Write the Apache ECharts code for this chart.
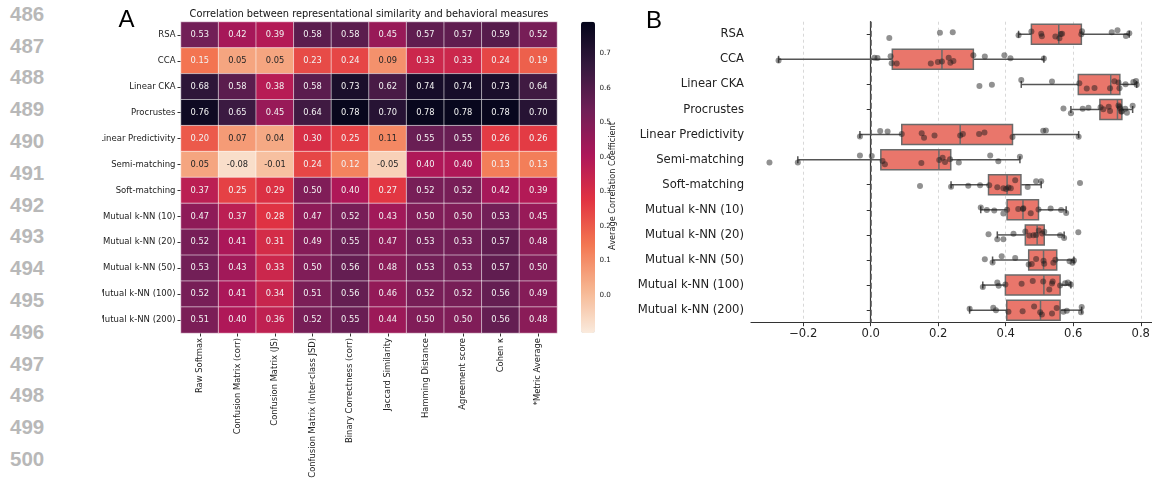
<!DOCTYPE html>
<html>
<head>
<meta charset="utf-8">
<script src="https://cdn.jsdelivr.net/npm/echarts@6/dist/echarts.min.js"></script>
<style>
html, body { margin: 0; padding: 0; background: #fff; }
#gutter { position: absolute; left: 0; top: 0; width: 102px; height: 481px;
  font-family: 'Liberation Sans', Arial, sans-serif; font-weight: bold; font-size: 20.5px; color: #b8b8b8; }
#gutter div { position: absolute; left: 10px; line-height: 20px; }
#chart { position: absolute; left: 102px; top: 0; width: 1050px; height: 481px; }
</style>
</head>
<body>
<div id="gutter"></div>
<div id="chart"></div>
<script>
var lineNumbers = [486, 487, 488, 489, 490, 491, 492, 493, 494, 495, 496, 497, 498, 499, 500];

var metrics = ['RSA', 'CCA', 'Linear CKA', 'Procrustes', 'Linear Predictivity', 'Semi-matching',
	'Soft-matching', 'Mutual k-NN (10)', 'Mutual k-NN (20)', 'Mutual k-NN (50)',
	'Mutual k-NN (100)', 'Mutual k-NN (200)'];

var measures = ['Raw Softmax', 'Confusion Matrix (corr)', 'Confusion Matrix (JS)',
	'Confusion Matrix (Inter-class JSD)', 'Binary Correctness (corr)', 'Jaccard Similarity',
	'Hamming Distance', 'Agreement score', 'Cohen \u03ba', '*Metric Average'];

var heatValues = [
	[0.53, 0.42, 0.39, 0.58, 0.58, 0.45, 0.57, 0.57, 0.59, 0.52],
	[0.15, 0.05, 0.05, 0.23, 0.24, 0.09, 0.33, 0.33, 0.24, 0.19],
	[0.68, 0.58, 0.38, 0.58, 0.73, 0.62, 0.74, 0.74, 0.73, 0.64],
	[0.76, 0.65, 0.45, 0.64, 0.78, 0.70, 0.78, 0.78, 0.78, 0.70],
	[0.20, 0.07, 0.04, 0.30, 0.25, 0.11, 0.55, 0.55, 0.26, 0.26],
	[0.05, -0.08, -0.01, 0.24, 0.12, -0.05, 0.40, 0.40, 0.13, 0.13],
	[0.37, 0.25, 0.29, 0.50, 0.40, 0.27, 0.52, 0.52, 0.42, 0.39],
	[0.47, 0.37, 0.28, 0.47, 0.52, 0.43, 0.50, 0.50, 0.53, 0.45],
	[0.52, 0.41, 0.31, 0.49, 0.55, 0.47, 0.53, 0.53, 0.57, 0.48],
	[0.53, 0.43, 0.33, 0.50, 0.56, 0.48, 0.53, 0.53, 0.57, 0.50],
	[0.52, 0.41, 0.34, 0.51, 0.56, 0.46, 0.52, 0.52, 0.56, 0.49],
	[0.51, 0.40, 0.36, 0.52, 0.55, 0.44, 0.50, 0.50, 0.56, 0.48]
];

var colorMin = -0.111;
var colorMax = 0.792;
var colorTicks = [0, 0.1, 0.2, 0.3, 0.4, 0.5, 0.6, 0.7];
// rocket_r
var rocketR = ['#faebdd', '#f6b48f', '#f37651', '#e13342', '#ad1759', '#701f57', '#35193e', '#03051a'];

var boxLow    = [0.438, -0.273, 0.446, 0.593, -0.032, -0.216, 0.238, 0.326, 0.375, 0.361, 0.332, 0.293];
var boxQ1     = [0.476,  0.064, 0.615, 0.679,  0.092,  0.030, 0.349, 0.404, 0.458, 0.468, 0.399, 0.403];
var boxMedian = [0.557,  0.211, 0.711, 0.731,  0.265,  0.202, 0.404, 0.451, 0.493, 0.512, 0.513, 0.503];
var boxQ3     = [0.624,  0.304, 0.738, 0.744,  0.420,  0.237, 0.445, 0.497, 0.514, 0.551, 0.561, 0.561];
var boxHigh   = [0.766,  0.513, 0.788, 0.776,  0.616,  0.442, 0.505, 0.579, 0.573, 0.602, 0.593, 0.625];

var stripPoints = [
	[0.055, 0.205, 0.243, 0.438, 0.476, 0.505, 0.507, 0.547, 0.559, 0.563, 0.567, 0.624, 0.626, 0.714, 0.731, 0.756, 0.766],
	[-0.273, 0.011, 0.020, 0.059, 0.062, 0.077, 0.178, 0.199, 0.211, 0.231, 0.236, 0.245, 0.304, 0.338, 0.396, 0.414, 0.513],
	[0.322, 0.359, 0.446, 0.537, 0.618, 0.640, 0.663, 0.709, 0.722, 0.734, 0.737, 0.755, 0.778, 0.786, 0.788],
	[0.571, 0.593, 0.628, 0.645, 0.681, 0.689, 0.705, 0.709, 0.734, 0.737, 0.739, 0.742, 0.744, 0.754, 0.759, 0.776],
	[-0.032, 0.028, 0.050, 0.092, 0.151, 0.158, 0.189, 0.265, 0.273, 0.321, 0.337, 0.420, 0.511, 0.519, 0.616],
	[-0.300, -0.216, -0.032, 0.003, 0.035, 0.042, 0.150, 0.203, 0.213, 0.220, 0.235, 0.261, 0.354, 0.378, 0.442],
	[0.146, 0.238, 0.289, 0.324, 0.351, 0.375, 0.393, 0.401, 0.408, 0.415, 0.428, 0.465, 0.490, 0.505, 0.620],
	[0.326, 0.344, 0.366, 0.393, 0.404, 0.437, 0.451, 0.452, 0.474, 0.497, 0.533, 0.564, 0.579],
	[0.349, 0.375, 0.393, 0.423, 0.458, 0.470, 0.482, 0.490, 0.498, 0.508, 0.514, 0.561, 0.573, 0.615],
	[0.338, 0.361, 0.388, 0.428, 0.468, 0.477, 0.490, 0.512, 0.514, 0.541, 0.547, 0.589, 0.598, 0.602],
	[0.332, 0.375, 0.379, 0.399, 0.447, 0.480, 0.511, 0.529, 0.537, 0.539, 0.561, 0.576, 0.584, 0.593],
	[0.293, 0.363, 0.371, 0.408, 0.450, 0.484, 0.502, 0.507, 0.537, 0.551, 0.571, 0.581, 0.623, 0.625]
];

var boxTicks = [-0.2, 0, 0.2, 0.4, 0.6, 0.8];

// line numbers in the margin
var gutter = document.getElementById('gutter');
for (var i = 0; i < lineNumbers.length; i++) {
	var d = document.createElement('div');
	d.textContent = lineNumbers[i];
	d.style.top = (13.7 + 31.8 * i - 10) + 'px';
	gutter.appendChild(d);
}

var heatData = [];
for (var r = 0; r < metrics.length; r++) {
	for (var c = 0; c < measures.length; c++) {
		heatData.push([c, r, heatValues[r][c]]);
	}
}

var boxData = [];
var scatterData = [];
for (var k = 0; k < metrics.length; k++) {
	boxData.push([k, boxLow[k], boxQ1[k], boxMedian[k], boxQ3[k], boxHigh[k]]);
	for (var p = 0; p < stripPoints[k].length; p++) {
		scatterData.push([stripPoints[k][p], metrics[k]]);
	}
}

var FONT = "'DejaVu Sans', sans-serif";

function renderBox(params, api) {
	var cat = api.value(0);
	var band = api.size([0, 1])[1];
	var h = band * 0.8;
	var lo = api.coord([api.value(1), cat]);
	var q1 = api.coord([api.value(2), cat]);
	var md = api.coord([api.value(3), cat]);
	var q3 = api.coord([api.value(4), cat]);
	var hi = api.coord([api.value(5), cat]);
	var y = q1[1];
	var ls = { stroke: '#555', lineWidth: 1.5 };
	return {
		type: 'group',
		children: [
			{ type: 'line', shape: { x1: lo[0], y1: y, x2: q1[0], y2: y }, style: ls },
			{ type: 'line', shape: { x1: q3[0], y1: y, x2: hi[0], y2: y }, style: ls },
			{ type: 'line', shape: { x1: lo[0], y1: y - 3.5, x2: lo[0], y2: y + 3.5 }, style: ls },
			{ type: 'line', shape: { x1: hi[0], y1: y - 3.5, x2: hi[0], y2: y + 3.5 }, style: ls },
			{ type: 'rect', shape: { x: q1[0], y: y - h / 2, width: q3[0] - q1[0], height: h },
				style: { fill: '#e9766b', stroke: '#6a6a6a', lineWidth: 1.5 } },
			{ type: 'line', shape: { x1: md[0], y1: y - h / 2, x2: md[0], y2: y + h / 2 }, style: { stroke: '#6a6a6a', lineWidth: 1.5 } }
		]
	};
}

var chart = echarts.init(document.getElementById('chart'));

var option = {
	animation: false,
	textStyle: { fontFamily: FONT },
	grid: [
		{ left: 79, top: 22, width: 376, height: 311, outerBoundsMode: 'none', containLabel: false },
		{ left: 479, top: 21.7, width: 14, height: 311.3, outerBoundsMode: 'none', containLabel: false },
		{ left: 649, top: 21.7, right: 0, height: 301, outerBoundsMode: 'none', containLabel: false }
	],
	xAxis: [
		{
			gridIndex: 0, type: 'category', data: measures, position: 'bottom',
			axisLine: { show: false },
			axisTick: { show: true, length: 3.5, alignWithLabel: true, lineStyle: { color: '#333' } },
			axisLabel: { rotate: 90, fontSize: 8.4, color: '#222', margin: 5, interval: 0 },
			splitLine: { show: false }
		},
		{ gridIndex: 1, type: 'value', show: false },
		{
			gridIndex: 2, type: 'value', min: -0.3547, max: 0.8333,
			axisLine: { show: true, lineStyle: { color: '#333', width: 1.2 } },
			axisTick: { show: true, length: 3.5, customValues: boxTicks, lineStyle: { color: '#333' } },
			axisLabel: {
				fontSize: 11.6, color: '#222', margin: 5, customValues: boxTicks,
				formatter: function (v) { return (v < -1e-9 ? '\u2212' : '') + Math.abs(v).toFixed(1); }
			},
			splitLine: { show: true, lineStyle: { color: '#cfcfcf', type: [3, 3], width: 0.8 } }
		}
	],
	yAxis: [
		{
			gridIndex: 0, type: 'category', data: metrics, inverse: true,
			axisLine: { show: false },
			axisTick: { show: true, length: 3.5, alignWithLabel: true, lineStyle: { color: '#333' } },
			axisLabel: { fontSize: 8.5, color: '#222', margin: 5.5, interval: 0 },
			splitLine: { show: false }
		},
		{
			gridIndex: 1, type: 'value', min: colorMin, max: colorMax, position: 'right',
			axisLine: { show: false },
			axisTick: { show: true, length: 3, customValues: colorTicks, lineStyle: { color: '#333' } },
			axisLabel: {
				fontSize: 7.2, color: '#222', margin: 4.5, customValues: colorTicks,
				formatter: function (v) { return v.toFixed(1); }
			},
			splitLine: { show: false }
		},
		{
			gridIndex: 2, type: 'category', data: metrics, inverse: true,
			jitter: 9, jitterOverlap: true,
			axisLine: { show: true, lineStyle: { color: '#333', width: 1.2 } },
			axisTick: { show: true, length: 4, alignWithLabel: true, lineStyle: { color: '#333' } },
			axisLabel: { fontSize: 11.6, color: '#222', margin: 7, interval: 0 },
			splitLine: { show: false }
		}
	],
	visualMap: {
		type: 'continuous', seriesIndex: 0, dimension: 2,
		min: colorMin, max: colorMax,
		orient: 'vertical', left: 479, top: 21.7,
		itemWidth: 14, itemHeight: 311.3,
		padding: 0, calculable: false, hoverLink: false,
		inRange: { color: rocketR }
	},
	graphic: [
		{ type: 'text', x: 267, y: 14.5,
			style: { text: 'Correlation between representational similarity and behavioral measures',
				font: '9.8px ' + FONT, fill: '#111', textAlign: 'center', textVerticalAlign: 'middle' } },
		{ type: 'text', x: 24.5, y: 20.5,
			style: { text: 'A', font: '24px "Liberation Sans", Arial, sans-serif', fill: '#000', textAlign: 'center', textVerticalAlign: 'middle' } },
		{ type: 'text', x: 552, y: 21,
			style: { text: 'B', font: '24px "Liberation Sans", Arial, sans-serif', fill: '#000', textAlign: 'center', textVerticalAlign: 'middle' } },
		{ type: 'text', x: 511, y: 186, rotation: Math.PI / 2,
			style: { text: 'Average Correlation Coefficient', font: '8.2px ' + FONT, fill: '#222', textAlign: 'center', textVerticalAlign: 'middle' } }
	],
	series: [
		{
			type: 'heatmap', xAxisIndex: 0, yAxisIndex: 0,
			// dark annotation text on the light cells, as seaborn does
			data: heatData.map(function (d) {
				return { value: d, label: { color: d[2] < 0.115 ? '#262626' : '#f2f2f2' } };
			}),
			itemStyle: { borderColor: 'rgba(255,255,255,0.55)', borderWidth: 1 },
			label: {
				show: true, fontSize: 8.3, fontFamily: FONT,
				formatter: function (p) { return p.value[2].toFixed(2); }
			},
			emphasis: { disabled: true }
		},
		{
			type: 'custom', xAxisIndex: 2, yAxisIndex: 2, data: boxData,
			encode: { x: [1, 2, 3, 4, 5], y: 0 },
			renderItem: renderBox, z: 3, silent: true
		},
		{
			type: 'scatter', xAxisIndex: 2, yAxisIndex: 2, data: scatterData,
			symbolSize: 6, z: 4, silent: true,
			itemStyle: { color: 'rgba(25,25,25,0.6)' },
			markLine: {
				silent: true, symbol: 'none', label: { show: false },
				lineStyle: { color: '#555', type: [6, 3], width: 1.5 },
				data: [{ xAxis: 0 }]
			}
		}
	]
};

chart.setOption(option);
</script>
</body>
</html>
